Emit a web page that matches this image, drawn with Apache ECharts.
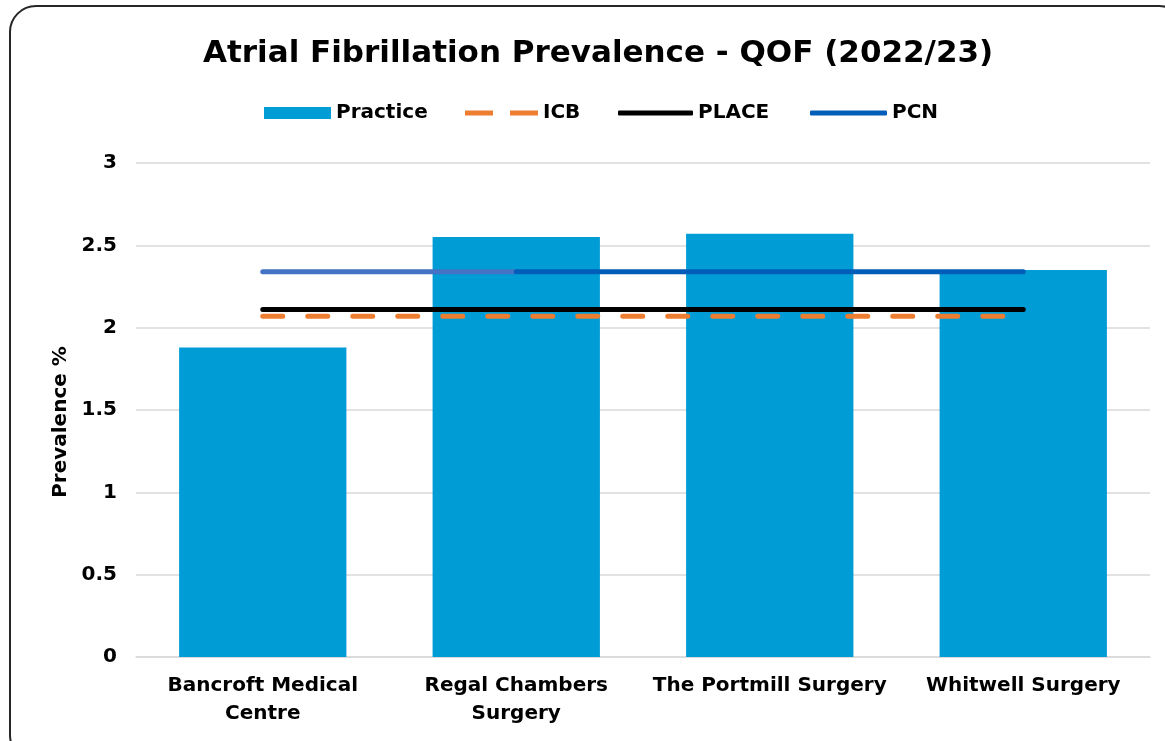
<!DOCTYPE html>
<html>
<head>
<meta charset="utf-8">
<script src="https://cdn.jsdelivr.net/npm/echarts@6/dist/echarts.min.js"></script>
<style>
  html, body { margin: 0; padding: 0; background: #fff; }
  #chart { width: 1165px; height: 741px; }
</style>
</head>
<body>
<div id="chart"></div>
<script>
var practices = ['Bancroft Medical\nCentre', 'Regal Chambers\nSurgery', 'The Portmill Surgery', 'Whitwell Surgery'];
var practiceValues = [1.88, 2.55, 2.57, 2.35];
var icbValues = [2.07, 2.07, 2.07, 2.07];
var placeValues = [2.11, 2.11, 2.11, 2.11];
var pcnValues = [null, 2.34, 2.34, 2.34];
var pcnOtherValues = [2.34, 2.34, null, null];   // lighter segment under the PCN line
var yTicks = [0, 0.5, 1, 1.5, 2, 2.5, 3];

var chart = echarts.init(document.getElementById('chart'));
var font = '"DejaVu Sans", sans-serif';
var txt = function (size) {
    return { fontSize: size, fontWeight: 'bold', color: '#000', fontFamily: font };
};

// one legend per entry so each sits where it does in the original
function legendItem(name, left, w, h, icon) {
    return {
        top: 103,
        left: left,
        padding: 0,
        itemWidth: w,
        itemHeight: h,
        itemGap: 0,
        data: [{ name: name, icon: icon }],
        textStyle: txt(20)
    };
}

var option = {
    animation: false,
    textStyle: { fontFamily: font },
    title: {
        text: 'Atrial Fibrillation Prevalence - QOF (2022/23)',
        left: 198,
        top: 33,
        textStyle: txt(31)
    },
    graphic: [{
        type: 'rect',
        shape: { x: 10, y: 6, width: 1175, height: 755, r: 26 },
        style: { fill: 'none', stroke: '#262626', lineWidth: 2 },
        z: 100
    }],
    legend: [
        legendItem('Practice', 264, 67, 12, 'rect'),
        legendItem('ICB', 465, 73, 5, 'path://M0,0h28v5h-28z M45,0h28v5h-28z'),
        legendItem('PLACE', 618, 75, 5, 'roundRect'),
        legendItem('PCN', 810, 77, 5, 'roundRect')
    ],
    grid: { left: 136, right: 15, top: 163, bottom: 84 },
    xAxis: {
        type: 'category',
        data: practices,
        axisLine: { lineStyle: { color: '#D9D9D9', width: 1.5 } },
        axisTick: { show: false },
        axisLabel: Object.assign(txt(20), { margin: 15, lineHeight: 28, interval: 0 })
    },
    yAxis: {
        type: 'value',
        min: yTicks[0],
        max: yTicks[yTicks.length - 1],
        interval: 0.5,
        name: 'Prevalence %',
        nameLocation: 'middle',
        nameGap: 62,
        nameTextStyle: Object.assign(txt(20), { padding: [0, 24, 0, 0] }),
        axisLine: { show: false },
        axisTick: { show: false },
        splitLine: { lineStyle: { color: '#D9D9D9', width: 1.5 } },
        axisLabel: Object.assign(txt(20), { margin: 19 })
    },
    series: [
        {
            name: 'Practice',
            type: 'bar',
            data: practiceValues,
            barWidth: '66%',
            itemStyle: { color: '#009CD6' },
            z: 1
        },
        {
            name: 'ICB',
            type: 'line',
            data: icbValues,
            symbol: 'none',
            lineStyle: { color: '#ED7D31', width: 5, type: [20, 25], cap: 'round' },
            itemStyle: { color: '#ED7D31' },
            z: 3
        },
        {
            name: 'PLACE',
            type: 'line',
            data: placeValues,
            symbol: 'none',
            lineStyle: { color: '#000', width: 5, cap: 'round' },
            itemStyle: { color: '#000' },
            z: 4
        },
        {
            name: 'PCN other',
            type: 'line',
            data: pcnOtherValues,
            symbol: 'none',
            lineStyle: { color: '#4472C4', width: 5, cap: 'round' },
            itemStyle: { color: '#4472C4' },
            z: 4
        },
        {
            name: 'PCN',
            type: 'line',
            data: pcnValues,
            symbol: 'none',
            lineStyle: { color: '#005EB8', width: 5, cap: 'round' },
            itemStyle: { color: '#005EB8' },
            z: 5
        }
    ]
};

chart.setOption(option);
</script>
</body>
</html>
